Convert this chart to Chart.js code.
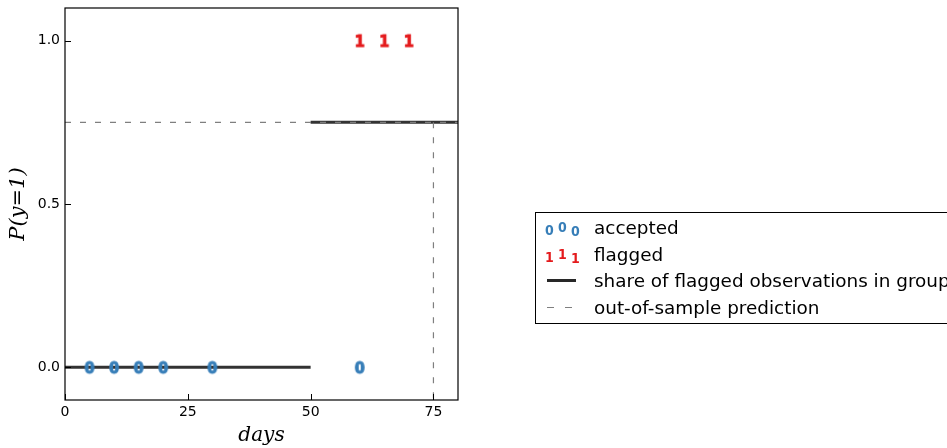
<!DOCTYPE html>
<html>
<head>
<meta charset="utf-8">
<script src="https://cdn.jsdelivr.net/npm/chart.js@4"></script>
<style>
    html, body { margin: 0; padding: 0; background: #fff; overflow: hidden; }
    #wrap { position: relative; width: 947px; height: 448px; }
    #legend {
        position: absolute; left: 535px; top: 212px; width: 430px; height: 112px;
        border: 1px solid #000; box-sizing: border-box;
        font-family: "DejaVu Sans", sans-serif; font-size: 18.4px; color: #000;
    }
    .row { position: absolute; left: 0; height: 27px; line-height: 27px; white-space: nowrap; }
    .row .lbl { position: absolute; left: 58px; top: 0; }
    .glyph { position: absolute; font-family: "DejaVu Sans Condensed", "DejaVu Sans", sans-serif; font-size: 14px; font-weight: bold; line-height: 14px; }
</style>
</head>
<body>
<div id="wrap">
    <canvas id="chart" width="947" height="448"></canvas>
    <div id="legend"></div>
</div>
<script>
// Observations (day, outcome)
const acceptedDays = [5, 10, 15, 20, 30, 60];
const flaggedDays = [60, 65, 70];

// Group shares: group edges and share of flagged in each group
const groupEdges = [0, 50, 80];
const groupShare = [0, 0.75];

// Out-of-sample prediction
const predictionDay = 75;
const predictionShare = 0.75;

// Axis ticks
const xTicks = [0, 25, 50, 75];
const yTicks = [0.0, 0.5, 1.0];

const xMin = 0, xMax = 80;
const yMin = -0.1, yMax = 1.1;

const BLUE = '#377eb8';
const RED = '#e41a1c';

// Build a text marker as a canvas, used as point style
function glyphMarker(ch, color) {
    const c = document.createElement('canvas');
    c.width = 14;
    c.height = 16;
    const g = c.getContext('2d');
    g.font = 'bold 16px "DejaVu Sans Condensed", "DejaVu Sans"';
    g.textAlign = 'center';
    g.textBaseline = 'alphabetic';
    g.fillStyle = color;
    g.strokeStyle = color;
    g.lineWidth = 1;
    // digit ink is about 0.73em tall, center it vertically
    const base = 8 + 16 * 0.73 / 2;
    g.fillText(ch, 7, base);
    g.strokeText(ch, 7, base);
    return c;
}

const shareSegments = groupShare.map((s, i) => ({
    data: [{x: groupEdges[i], y: s}, {x: groupEdges[i + 1], y: s}],
    type: 'line',
    borderColor: 'rgba(40,40,40,0.95)',
    borderWidth: 3,
    pointRadius: 0,
    order: 2
}));

// Frame and inward ticks, matplotlib style
const framePlugin = {
    id: 'frame',
    afterDraw(chart) {
        const {ctx, chartArea: a, scales} = chart;
        ctx.save();
        ctx.strokeStyle = '#000';
        ctx.lineWidth = 1.2;
        ctx.strokeRect(a.left, a.top, a.right - a.left, a.bottom - a.top);
        ctx.lineWidth = 1;
        ctx.beginPath();
        xTicks.forEach(v => {
            const px = Math.round(scales.x.getPixelForValue(v)) + 0.5;
            ctx.moveTo(px, a.bottom);
            ctx.lineTo(px, a.bottom - 6);
        });
        yTicks.forEach(v => {
            const py = Math.round(scales.y.getPixelForValue(v)) + 0.5;
            ctx.moveTo(a.left, py);
            ctx.lineTo(a.left + 6, py);
        });
        ctx.stroke();
        ctx.restore();
    }
};

const chart = new Chart(document.getElementById('chart'), {
    type: 'scatter',
    data: {
        datasets: [
            ...shareSegments,
            {
                data: [{x: xMin, y: predictionShare}, {x: xMax, y: predictionShare}],
                type: 'line',
                borderColor: '#7f7f7f',
                borderWidth: 1.2,
                borderDash: [6, 9],
                pointRadius: 0,
                order: 1
            },
            {
                data: [{x: predictionDay, y: predictionShare}, {x: predictionDay, y: yMin}],
                type: 'line',
                borderColor: '#7f7f7f',
                borderWidth: 1.2,
                borderDash: [6, 9],
                pointRadius: 0,
                order: 1
            },
            {
                data: acceptedDays.map(d => ({x: d, y: 0})),
                pointStyle: glyphMarker('0', BLUE),
                pointRadius: 7,
                order: 0
            },
            {
                data: flaggedDays.map(d => ({x: d, y: 1})),
                pointStyle: glyphMarker('1', RED),
                pointRadius: 7,
                order: 0
            }
        ]
    },
    options: {
        responsive: false,
        animation: false,
        layout: { padding: { left: 0, top: 7, right: 489, bottom: 0 } },
        plugins: {
            legend: { display: false },
            tooltip: { enabled: false }
        },
        scales: {
            x: {
                type: 'linear',
                min: xMin,
                max: xMax,
                afterBuildTicks: s => { s.ticks = xTicks.map(v => ({value: v})); },
                afterFit: s => { s.height = 48; s.paddingLeft = 0; s.paddingRight = 0; },
                grid: { display: false, drawTicks: false },
                border: { display: false },
                ticks: {
                    padding: 4,
                    color: '#000',
                    font: { family: 'DejaVu Sans', size: 14 },
                    callback: v => String(v)
                },
                title: {
                    display: true,
                    text: 'days',
                    color: '#000',
                    padding: { top: 1, bottom: 0 },
                    font: { family: 'DejaVu Serif', style: 'italic', size: 20 }
                }
            },
            y: {
                type: 'linear',
                min: yMin,
                max: yMax,
                afterBuildTicks: s => { s.ticks = yTicks.map(v => ({value: v})); },
                afterFit: s => { s.width = 65; s.paddingTop = 0; s.paddingBottom = 0; },
                grid: { display: false, drawTicks: false },
                border: { display: false },
                ticks: {
                    padding: 5,
                    color: '#000',
                    font: { family: 'DejaVu Sans', size: 14 },
                    callback: v => v.toFixed(1)
                },
                title: {
                    display: true,
                    text: 'P(y=1)',
                    color: '#000',
                    padding: { top: 6, bottom: 0 },
                    font: { family: 'DejaVu Serif', style: 'italic', size: 21 }
                }
            }
        }
    },
    plugins: [framePlugin]
});

// Legend, built as HTML text
const legendRows = [
    { label: 'accepted', glyph: '0', color: BLUE },
    { label: 'flagged', glyph: '1', color: RED },
    { label: 'share of flagged observations in group', line: 'solid' },
    { label: 'out-of-sample prediction', line: 'dash' }
];
const legendEl = document.getElementById('legend');
const glyphOffsets = [2, -1, 3];
legendRows.forEach((r, i) => {
    const row = document.createElement('div');
    row.className = 'row';
    row.style.top = (1 + i * 26.5) + 'px';
    row.style.width = '100%';
    if (r.glyph) {
        glyphOffsets.forEach((off, k) => {
            const s = document.createElement('span');
            s.className = 'glyph';
            s.textContent = r.glyph;
            s.style.color = r.color;
            s.style.left = (9 + k * 13) + 'px';
            s.style.top = (7 + off) + 'px';
            row.appendChild(s);
        });
    } else {
        const ln = document.createElement('div');
        ln.style.position = 'absolute';
        ln.style.left = '11px';
        ln.style.width = '29px';
        if (r.line === 'solid') {
            ln.style.top = '12px';
            ln.style.height = '3px';
            ln.style.background = 'rgb(40,40,40)';
        } else {
            ln.style.top = '13px';
            ln.style.height = '1.5px';
            ln.style.background = 'linear-gradient(to right, #7f7f7f 0 7px, transparent 7px 18px, #7f7f7f 18px 25px, transparent 25px)';
        }
        row.appendChild(ln);
    }
    const lbl = document.createElement('span');
    lbl.className = 'lbl';
    lbl.textContent = r.label;
    row.appendChild(lbl);
    legendEl.appendChild(row);
});
</script>
</body>
</html>
